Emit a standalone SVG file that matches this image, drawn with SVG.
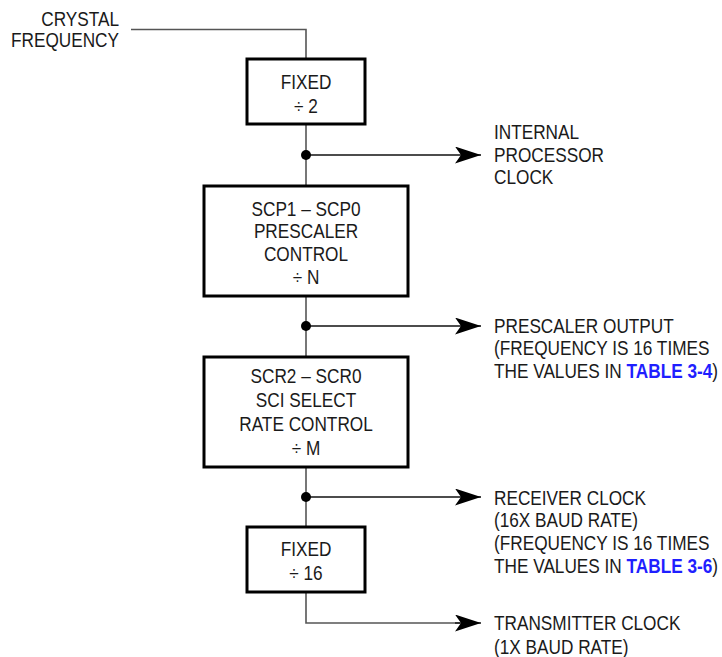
<svg xmlns="http://www.w3.org/2000/svg" width="722" height="657" viewBox="0 0 722 657">
<style>
text{font-family:"Liberation Sans",Arial,sans-serif;font-size:21px;fill:#1a1a1a}
.c{text-anchor:middle}
.r{text-anchor:end}
.box{fill:#fff;stroke:#000;stroke-width:3}
.wire{fill:none;stroke:#555;stroke-width:1.6}
.arr{fill:none;stroke:#111;stroke-width:1.4}
.dot{fill:#000}
.link{fill:#1f1fff;font-weight:bold}
</style>
<defs>
<marker id="ah" markerUnits="userSpaceOnUse" viewBox="0 0 26 17" markerWidth="26" markerHeight="17" refX="26" refY="8.5" orient="auto">
<path d="M0,0 L26,8.5 L0,17 L6,8.5 Z" fill="#000"/>
</marker>
</defs>
<g id="connectors">
<path class="wire" d="M131,29.5 H306 V59"/>
<path class="wire" d="M306,124 V186"/>
<path class="wire" d="M306,296 V357"/>
<path class="wire" d="M306,467 V527"/>
<path class="wire" d="M306,592 V623 H460"/>
<line class="arr" x1="306" y1="155" x2="481" y2="155" marker-end="url(#ah)"/>
<line class="arr" x1="306" y1="326" x2="481" y2="326" marker-end="url(#ah)"/>
<line class="arr" x1="306" y1="497" x2="481" y2="497" marker-end="url(#ah)"/>
<line class="arr" x1="455" y1="623" x2="481" y2="623" marker-end="url(#ah)"/>
<circle class="dot" cx="306" cy="155" r="5"/>
<circle class="dot" cx="306" cy="326" r="5"/>
<circle class="dot" cx="306" cy="497" r="5"/>
</g>
<g id="crystal" transform="translate(119,0) scale(0.82,1)">
<text class="r" x="0" y="26">CRYSTAL</text>
<text class="r" x="0" y="47">FREQUENCY</text>
</g>
<g id="fixed2">
<rect class="box" x="247" y="59" width="118" height="65"/>
<g transform="translate(306,0) scale(0.82,1)">
<text class="c" x="0" y="89">FIXED</text>
<text class="c" x="0" y="113">÷ 2</text>
</g>
</g>
<g id="internal-clock" transform="translate(494,0) scale(0.82,1)">
<text x="0" y="139">INTERNAL</text>
<text x="0" y="162">PROCESSOR</text>
<text x="0" y="184">CLOCK</text>
</g>
<g id="prescaler">
<rect class="box" x="204" y="186" width="204" height="110"/>
<g transform="translate(306,0) scale(0.82,1)">
<text class="c" x="0" y="216">SCP1 – SCP0</text>
<text class="c" x="0" y="238">PRESCALER</text>
<text class="c" x="0" y="261">CONTROL</text>
<text class="c" x="0" y="284">÷ N</text>
</g>
</g>
<g id="prescaler-output" transform="translate(494,0) scale(0.82,1)">
<text x="0" y="333">PRESCALER OUTPUT</text>
<text x="0" y="355.5">(FREQUENCY IS 16 TIMES</text>
<text x="0" y="378">THE VALUES IN <tspan class="link">TABLE 3-4</tspan>)</text>
</g>
<g id="sci-rate">
<rect class="box" x="204" y="357" width="204" height="110"/>
<g transform="translate(306,0) scale(0.82,1)">
<text class="c" x="0" y="383">SCR2 – SCR0</text>
<text class="c" x="0" y="407">SCI SELECT</text>
<text class="c" x="0" y="431">RATE CONTROL</text>
<text class="c" x="0" y="455">÷ M</text>
</g>
</g>
<g id="receiver-clock" transform="translate(494,0) scale(0.82,1)">
<text x="0" y="505">RECEIVER CLOCK</text>
<text x="0" y="527.5">(16X BAUD RATE)</text>
<text x="0" y="550">(FREQUENCY IS 16 TIMES</text>
<text x="0" y="573">THE VALUES IN <tspan class="link">TABLE 3-6</tspan>)</text>
</g>
<g id="fixed16">
<rect class="box" x="247" y="527" width="118" height="65"/>
<g transform="translate(306,0) scale(0.82,1)">
<text class="c" x="0" y="556">FIXED</text>
<text class="c" x="0" y="580">÷ 16</text>
</g>
</g>
<g id="transmitter-clock" transform="translate(494,0) scale(0.82,1)">
<text x="0" y="630">TRANSMITTER CLOCK</text>
<text x="0" y="654">(1X BAUD RATE)</text>
</g>
</svg>
